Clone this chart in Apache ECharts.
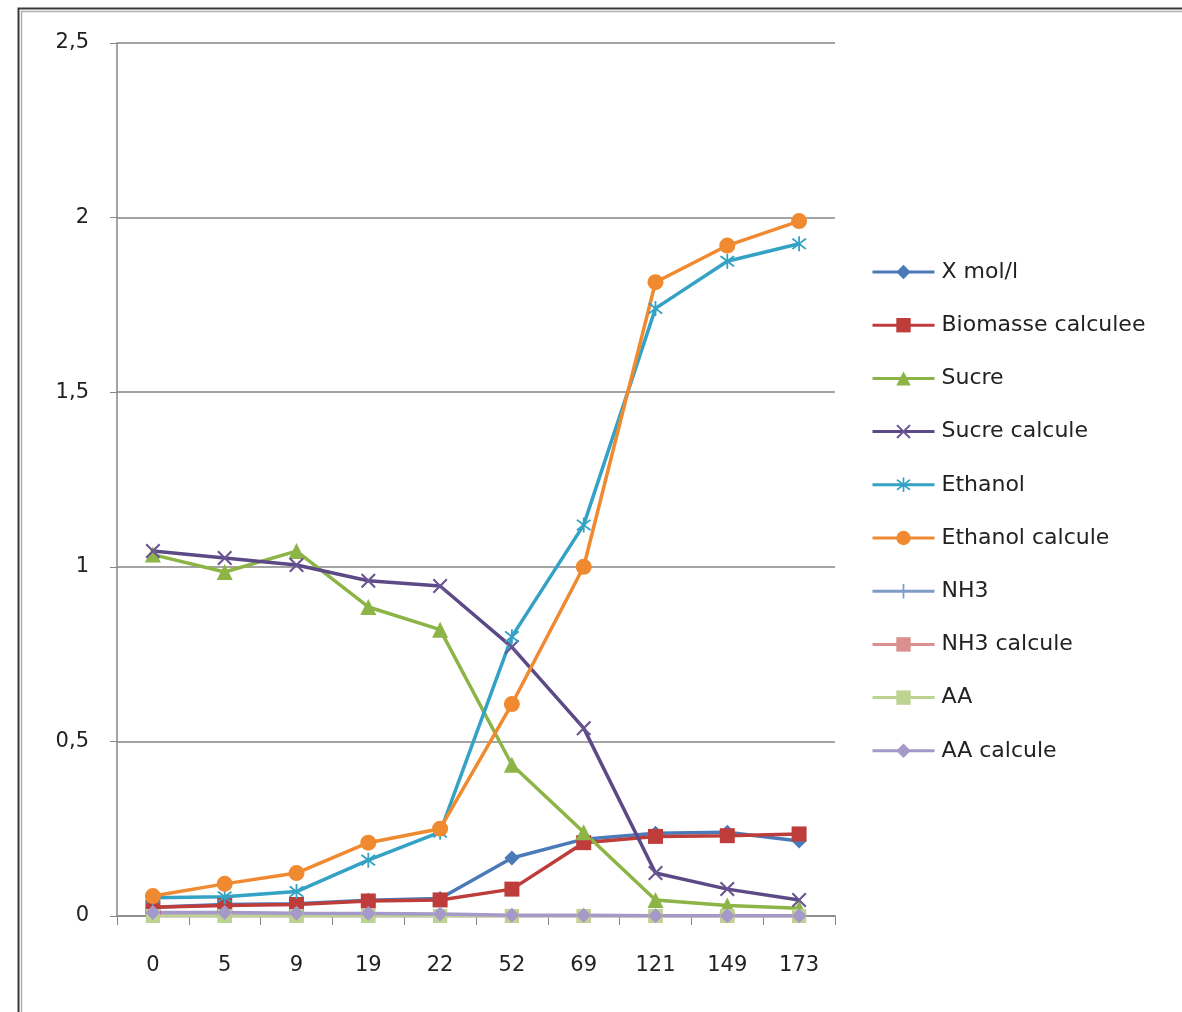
<!DOCTYPE html>
<html>
<head>
<meta charset="utf-8">
<script src="https://cdn.jsdelivr.net/npm/echarts@6/dist/echarts.min.js"></script>
<style>
html,body{margin:0;padding:0;background:#fff;}
#chart{width:1182px;height:1012px;}
</style>
</head>
<body>
<div id="chart"></div>
<script>
var categories = ['0','5','9','19','22','52','69','121','149','173'];
var xMol        = [0.025,0.033,0.035,0.045,0.050,0.166,0.220,0.237,0.240,0.215];
var biomasseCalc= [0.025,0.030,0.033,0.043,0.046,0.077,0.210,0.228,0.230,0.235];
var sucre       = [1.035,0.985,1.045,0.885,0.820,0.433,0.240,0.046,0.030,0.022];
var sucreCalc   = [1.045,1.025,1.005,0.960,0.945,0.770,0.538,0.123,0.077,0.046];
var ethanol     = [0.052,0.055,0.070,0.160,0.240,0.800,1.120,1.740,1.875,1.925];
var ethanolCalc = [0.057,0.092,0.123,0.210,0.250,0.607,1.000,1.815,1.920,1.990];
var nh3         = [0,0,0,0,0,0,0,0,0,0];
var nh3Calc     = [0,0,0,0,0,0,0,0,0,0];
var aa          = [0,0,0,0,0,0,0,0,0,0];
var aaCalc      = [0.010,0.010,0.008,0.007,0.006,0.002,0.002,0.001,0.001,0.001];
var yTicks = [0,0.5,1,1.5,2,2.5];

var FONT = 'DejaVu Sans';
var X_PATH = 'path://M1,0L5,4L9,0L10,1L6,5L10,9L9,10L5,6L1,10L0,9L4,5L0,1Z';
var STAR_PATH = 'path://M1,0L5,4L9,0L10,1L6,5L10,9L9,10L5,6L1,10L0,9L4,5L0,1ZM4.4,-1.5H5.6V11.5H4.4Z';
var PLUS_PATH = 'path://M4.4,0H5.6V4.4H10V5.6H5.6V10H4.4V5.6H0V4.4H4.4Z';
var DASH_PATH = 'path://M0,0H10V2.5H0Z';

function mk(name, data, color, symbol, size, lw, lineColor) {
  return {
    name: name, type: 'line', data: data, symbol: symbol, symbolSize: size,
    showSymbol: true,
    lineStyle: {color: lineColor || color, width: lw},
    itemStyle: {color: color, borderColor: color, borderWidth: 0},
    emphasis: {disabled: true},
    animation: false
  };
}

var chart = echarts.init(document.getElementById('chart'), null, {renderer: 'canvas'});
chart.setOption({
  backgroundColor: '#ffffff',
  animation: false,
  graphic: [
    {type: 'rect', shape: {x: 18.5, y: 8.5, width: 1200, height: 1100}, style: {fill: 'none', stroke: '#3a3a3a', lineWidth: 2}},
    {type: 'rect', shape: {x: 21.5, y: 11.5, width: 1200, height: 1100}, style: {fill: 'none', stroke: '#b0b0b0', lineWidth: 1.5}}
  ],
  grid: {left: 117, right: 347, top: 43, bottom: 96, containLabel: false},
  legend: {
    orient: 'vertical',
    left: 871,
    top: 261,
    padding: 0,
    itemWidth: 62,
    itemHeight: 18,
    itemGap: 31.2,
    lineStyle: {width: 3},
    textStyle: {fontFamily: FONT, fontSize: 22, lineHeight: 22, color: '#222', padding: [0,0,0,2]},
    data: ['X mol/l','Biomasse calculee','Sucre','Sucre calcule','Ethanol','Ethanol calcule','NH3','NH3 calcule','AA','AA calcule']
  },
  xAxis: {
    type: 'category',
    data: categories,
    boundaryGap: true,
    axisLine: {lineStyle: {color: '#868686', width: 1.5}},
    axisTick: {show: true, alignWithLabel: false, length: 9, lineStyle: {color: '#868686'}},
    axisLabel: {fontFamily: FONT, fontSize: 21, color: '#222', margin: 39},
    splitLine: {show: false}
  },
  yAxis: {
    type: 'value',
    min: 0, max: 2.5, interval: 0.5,
    axisLine: {show: true, lineStyle: {color: '#868686', width: 1.5}},
    axisTick: {show: true, length: 7, lineStyle: {color: '#868686'}},
    axisLabel: {fontFamily: FONT, fontSize: 21, color: '#222', margin: 28,
      formatter: function (v) { return String(v).replace('.', ','); }},
    splitLine: {show: true, lineStyle: {color: '#868686', width: 1.5}}
  },
  series: [
    mk('X mol/l', xMol, '#4a7ab8', 'diamond', 15, 3.5),
    mk('Biomasse calculee', biomasseCalc, '#be3d3a', 'rect', 15, 3.5),
    mk('Sucre', sucre, '#8db446', 'triangle', 16, 3.5),
    mk('Sucre calcule', sucreCalc, '#6a5592', X_PATH, 15, 3.5, '#5c4a86'),
    mk('Ethanol', ethanol, '#34a2c4', STAR_PATH, 15, 3.5),
    mk('Ethanol calcule', ethanolCalc, '#f08a30', 'circle', 16, 3.5),
    mk('NH3', nh3, '#7f9cc8', PLUS_PATH, 14, 3),
    mk('NH3 calcule', nh3Calc, '#d9908e', DASH_PATH, 14, 3),
    mk('AA', aa, '#bcd391', DASH_PATH, 14, 3),
    mk('AA calcule', aaCalc, '#a499c8', 'diamond', 15, 3.5)
  ]
});
</script>
</body>
</html>
